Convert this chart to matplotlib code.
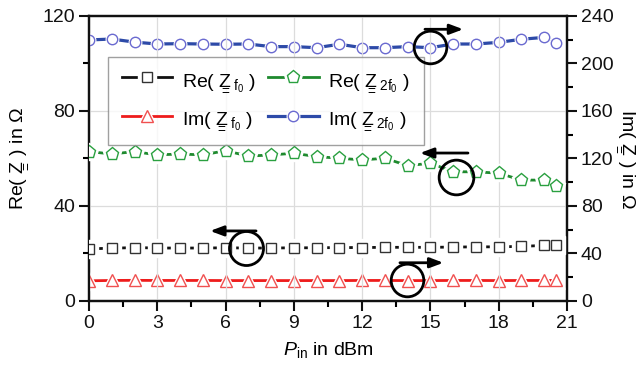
import matplotlib
matplotlib.use("Agg")
import matplotlib.pyplot as plt
from matplotlib.ticker import MultipleLocator

plt.rcParams['font.family'] = ['Liberation Sans', 'DejaVu Sans']
plt.rcParams['mathtext.fontset'] = 'custom'
plt.rcParams['mathtext.rm'] = 'Liberation Sans'
plt.rcParams['mathtext.it'] = 'Liberation Sans:italic'
plt.rcParams['mathtext.default'] = 'regular'

# ---- data ----
p_in = [0, 1, 2, 3, 4, 5, 6, 7, 8, 9, 10, 11, 12, 13, 14, 15, 16, 17, 18, 19, 20, 20.5]
re_zf0 = [22.0, 22.2, 22.5, 22.3, 22.3, 22.3, 22.4, 22.3, 22.3, 22.4, 22.4,
          22.5, 22.5, 22.6, 22.6, 22.6, 22.7, 22.8, 22.8, 23.0, 23.4, 23.4]
im_zf0 = [17.0, 17.3, 17.4, 17.3, 17.3, 17.3, 17.2, 17.2, 17.2, 17.2, 17.2,
          17.2, 17.3, 17.3, 17.2, 17.2, 17.3, 17.3, 17.2, 17.3, 17.3, 17.3]
re_z2f0 = [62.9, 61.9, 62.9, 61.5, 61.9, 61.5, 63.3, 61.0, 61.5, 62.2, 60.8,
           60.1, 59.4, 60.1, 57.0, 58.0, 54.4, 54.4, 53.8, 50.9, 50.9, 48.6]
im_z2f0 = [219.8, 220.6, 218.0, 216.4, 216.7, 216.4, 216.2, 216.4, 214.2, 214.2, 213.3,
           216.2, 213.3, 213.3, 214.2, 213.3, 216.4, 216.4, 217.8, 220.4, 222.0, 217.5]

x_ticks = [0, 3, 6, 9, 12, 15, 18, 21]
left_ticks = [0, 40, 80, 120]
right_ticks = [0, 40, 80, 120, 160, 200, 240]

ZZ = r'\underset{=}{Z}'
lab_re_f0 = r'Re( $' + ZZ + r'_{\,f_{0}}$ )'
lab_im_f0 = r'Im( $' + ZZ + r'_{\,f_{0}}$ )'
lab_re_2f0 = r'Re( $' + ZZ + r'_{\,2f_{0}}$ )'
lab_im_2f0 = r'Im( $' + ZZ + r'_{\,2f_{0}}$ )'

FS = 14

fig = plt.figure(figsize=(6.42, 3.77), dpi=100)
ax = fig.add_axes([0.1386, 0.2016, 0.7446, 0.756])
ax2 = ax.twinx()
ax.set_zorder(ax2.get_zorder() + 1)
ax.patch.set_visible(False)

c_black = '#111111'
c_red = '#ee1c1c'
c_red_m = '#f05050'
c_green = '#1e8a2e'
c_green_m = '#2aa040'
c_blue = '#2d4aa8'
c_blue_m = '#6a6ad0'


def series(a, x, y, lc, mc, marker, ms, lw, gap, z):
    l, = a.plot(x, y, '-', color=lc, lw=lw, zorder=z, clip_on=True)
    w, = a.plot(x, y, linestyle='none', marker=marker, ms=ms + gap, mfc='white',
                mec='white', mew=1.0, zorder=z + 0.1, clip_on=True)
    m, = a.plot(x, y, linestyle='none', marker=marker, ms=ms, mfc='white',
                mec=mc, mew=1.0, zorder=z + 0.2, clip_on=True)
    return (l, w, m)


h_im2 = series(ax2, p_in, im_z2f0, c_blue, c_blue_m, 'o', 7.5, 2.3, 1.5, 3)
h_im1 = series(ax2, p_in, im_zf0, c_red, c_red_m, '^', 8.5, 2.0, 5, 3)
h_re1 = series(ax, p_in, re_zf0, c_black, '#333333', 's', 6.5, 2.0, 6, 3)
h_re2 = series(ax, p_in, re_z2f0, c_green, c_green_m, 'p', 9.5, 2.0, 4, 3)

# axes limits / ticks
ax.set_xlim(0, 21)
ax.set_ylim(0, 120)
ax2.set_ylim(0, 240)
ax.set_xticks(x_ticks)
ax.set_yticks(left_ticks)
ax2.set_yticks(right_ticks)
ax.xaxis.set_minor_locator(MultipleLocator(1.5))
ax.yaxis.set_minor_locator(MultipleLocator(20))
ax2.yaxis.set_minor_locator(MultipleLocator(20))

for a in (ax, ax2):
    a.tick_params(which='major', direction='out', length=7, width=1.5, labelsize=FS,
                  colors='#111111', pad=3)
    a.tick_params(which='minor', direction='out', length=4, width=1.5)
    for s in a.spines.values():
        s.set_linewidth(1.6)
        s.set_color('#111111')
ax.grid(True, which='major', color='#dcdcdc', lw=0.9)
ax.set_axisbelow(True)

ax.set_xlabel(r'$\mathit{P}_{\mathregular{in}}$ in dBm', fontsize=FS, labelpad=6)
ax.set_ylabel(r'Re( $' + ZZ + r'$ ) in $\Omega$', fontsize=FS, labelpad=10)
ax2.set_ylabel(r'Im( $' + ZZ + r'$ ) in $\Omega$', fontsize=FS, rotation=270, labelpad=17)

leg = ax.legend([h_re1, h_im1, h_re2, h_im2], [lab_re_f0, lab_im_f0, lab_re_2f0, lab_im_2f0],
                ncol=2, loc='upper left', bbox_to_anchor=(0.02, 0.89),
                fontsize=FS, frameon=True, fancybox=False, handlelength=2.6,
                columnspacing=0.6, handletextpad=0.5, borderpad=0.7, labelspacing=0.8)
leg.get_frame().set_edgecolor('#888888')
leg.get_frame().set_linewidth(1.0)
leg.set_zorder(10)


# circles and arrows (decorative annotations)
def circ_arrow(cx, cy, d_pts, start, end):
    ax.plot([cx], [cy], marker='o', ms=d_pts, mfc='none', mec='black', mew=2.0,
            zorder=12, clip_on=False)
    ax.annotate('', xy=end, xytext=start,
                arrowprops=dict(arrowstyle='-|>,head_length=0.8,head_width=0.3',
                                color='black', lw=2.0, shrinkA=0, shrinkB=0),
                zorder=12, annotation_clip=False)

# black: left arrow
circ_arrow(6.91, 22.2, 24.5, (7.34, 29.5), (5.32, 29.5))
# red: right arrow
circ_arrow(13.98, 8.63, 23.5, (13.66, 16.1), (15.57, 16.1))
# blue: right arrow
circ_arrow(14.98, 107.1, 23.5, (14.76, 114.4), (16.44, 114.4))
# green: left arrow
circ_arrow(16.11, 52.0, 25, (16.65, 62.3), (14.54, 62.3))

fig.savefig('out.png', dpi=100)
